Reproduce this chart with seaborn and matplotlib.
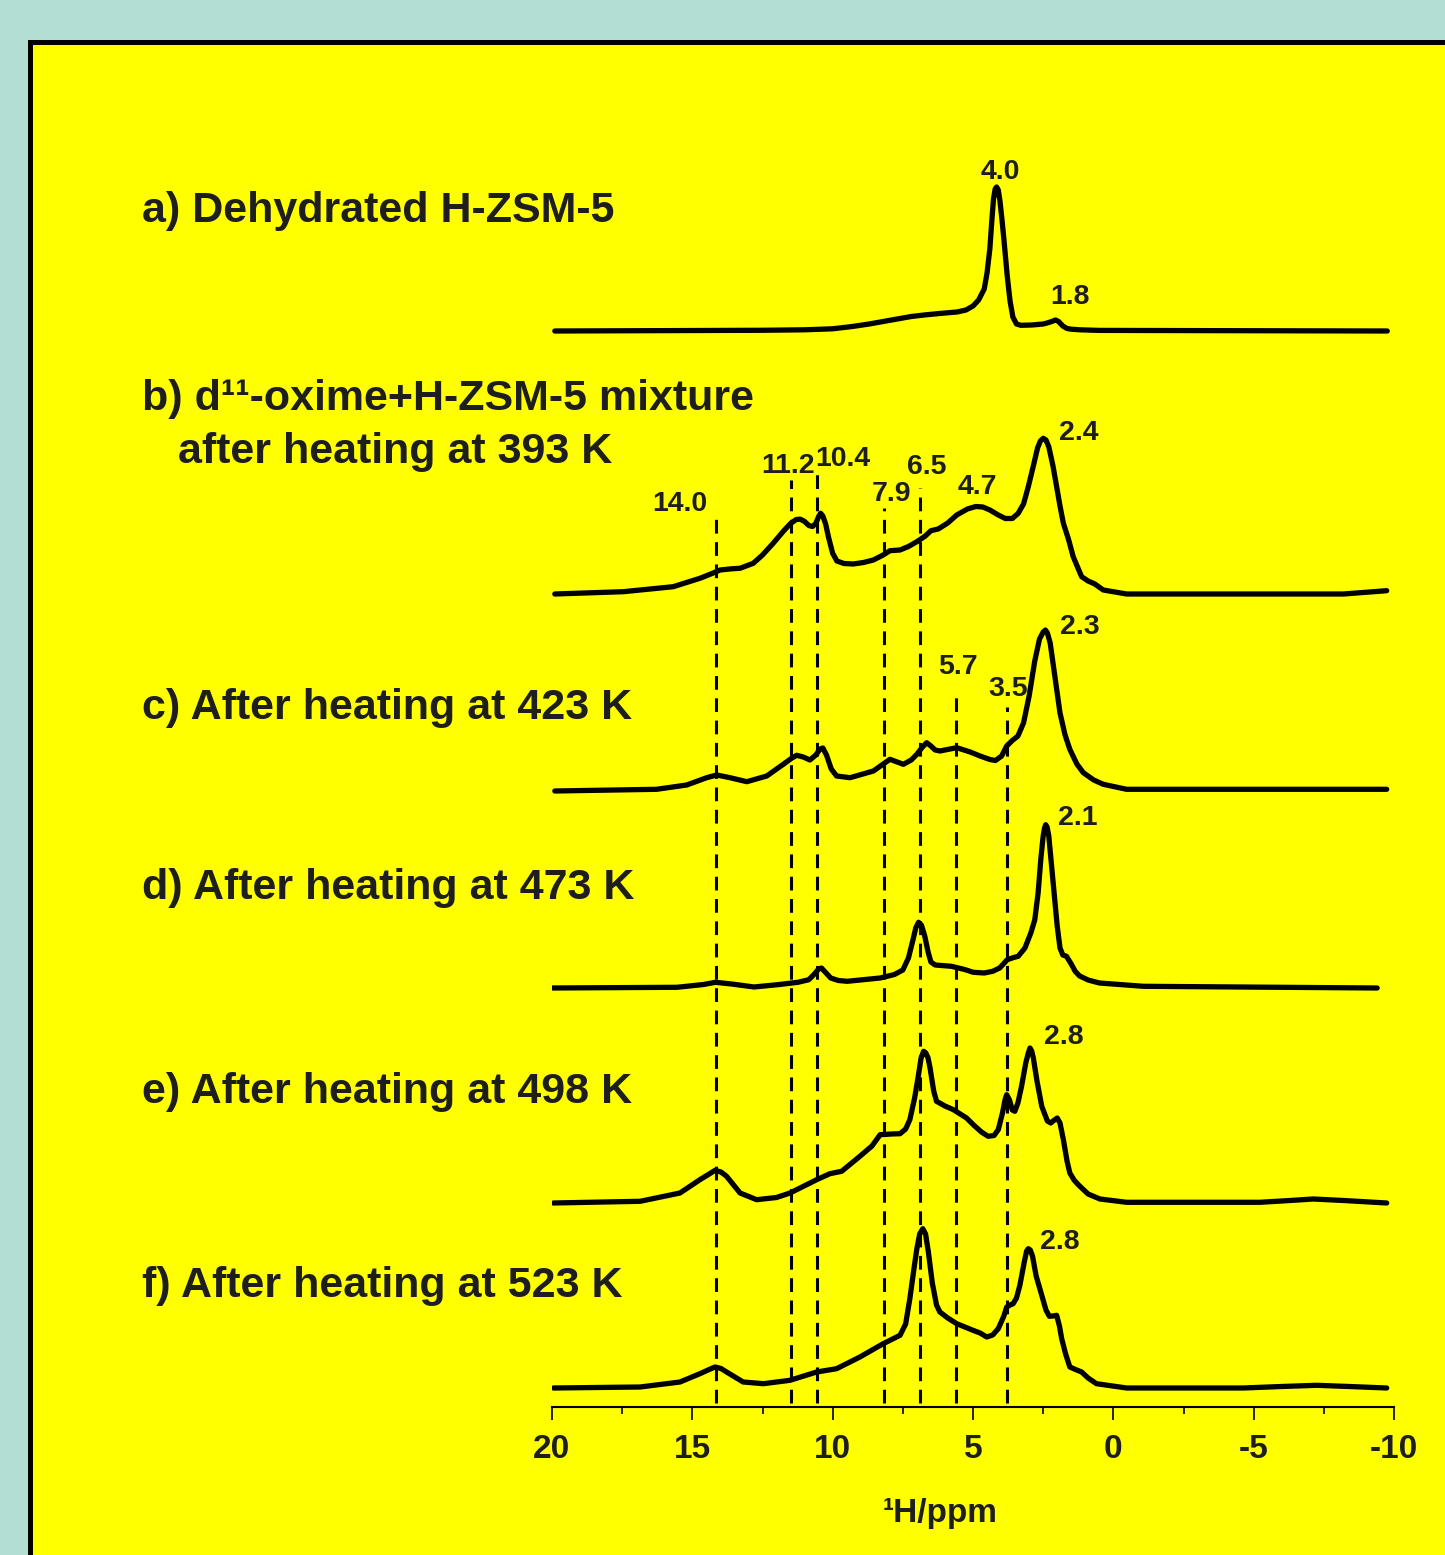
import matplotlib
matplotlib.use("Agg")
import matplotlib.pyplot as plt
from matplotlib.patches import Rectangle
from matplotlib.ticker import MultipleLocator
import seaborn as sns
import pandas as pd

# traced spectra: chemical shift (ppm) and height above own baseline (arb.)
a_ppm = [19.9, 12.6, 11.0, 10.0, 9.3, 8.7, 8.3, 7.7, 7.2, 6.74, 6.2, 5.57, 5.25, 5.0, 4.8, 4.6, 4.5, 4.4,
         4.33, 4.27, 4.21, 4.16, 4.1, 4.04, 3.97, 3.9, 3.78, 3.68, 3.58, 3.45, 3.3, 2.9, 2.5, 2.3, 2.15,
         2.06, 1.95, 1.8, 1.65, 1.5, 1.2, 0.5, -9.76]
a_int = [0, 0.7, 1.2, 2.2, 4.5, 7, 9, 12, 14.5, 16, 17.5, 19, 21, 25, 31, 42, 58, 82,
         110, 132, 142, 144, 141, 130, 112, 92, 55, 30, 14, 7, 5.7, 6, 7, 8.5, 10,
         11, 9.5, 5, 2.5, 1.8, 1.2, 0.6, 0]

b_ppm = [19.9, 17.46, 15.68, 14.73, 14.3, 14.01, 13.6, 13.3, 12.83, 12.5, 12.12, 11.75, 11.5, 11.3, 11.15,
         11.0, 10.85, 10.72, 10.6, 10.5, 10.43, 10.35, 10.25, 10.15, 10.0, 9.85, 9.6, 9.27, 8.9, 8.55, 8.2,
         7.96, 7.6, 7.3, 7.0, 6.7, 6.5, 6.24, 5.9, 5.58, 5.2, 4.9, 4.65, 4.4, 4.1, 3.85, 3.6, 3.39, 3.2,
         3.03, 2.85, 2.7, 2.6, 2.5, 2.4, 2.3, 2.15, 2.02, 1.9, 1.78, 1.6, 1.43, 1.13, 0.9, 0.66, 0.36,
         -0.47, -8.2, -9.74]
b_int = [0, 2.3, 7.3, 15.7, 20.5, 24, 25.2, 25.7, 30.7, 39, 50.7, 63, 70.5, 74.5, 74.8,
         72.5, 68.5, 67.5, 70.5, 77.5, 80.7, 78, 70, 57, 40.7, 33, 30.5, 30, 31.5, 34, 39,
         43.3, 44, 47.5, 52.3, 58, 63.3, 65, 71, 79, 85, 87.5, 87, 84, 79, 75.5, 75.5, 80.7, 90,
         107.3, 128, 146, 153, 155.7, 154, 147.3, 128, 107.3, 88, 70.7, 55, 37.3, 17.3, 13, 10, 4,
         0, 0, 3.3]

c_ppm = [19.9, 16.27, 15.2, 14.49, 14.13, 13.66, 13.06, 12.35, 11.76, 11.45, 11.28, 11.05, 10.81, 10.6,
         10.45, 10.35, 10.22, 10.05, 9.86, 9.38, 8.55, 7.96, 7.75, 7.48, 7.2, 7.0, 6.8, 6.65, 6.5, 6.35,
         6.18, 5.58, 5.1, 4.75, 4.4, 4.2, 3.98, 3.8, 3.6, 3.4, 3.2, 3.0, 2.8, 2.63, 2.5, 2.42, 2.35,
         2.25, 2.1, 1.9, 1.72, 1.55, 1.3, 1.07, 0.7, 0.36, -0.47, -9.74]
c_int = [0, 1.7, 6, 13.3, 16, 13.3, 9.3, 15, 26.7, 33, 35.7, 34, 31, 36,
         42, 43, 36, 22, 15, 13.3, 20, 31.7, 29.5, 26.7, 31, 36.7, 44, 48.3, 45, 41,
         40, 43.3, 39, 35, 31.5, 30.5, 35, 45, 50.5, 55, 68, 95, 130, 152, 159, 161, 158,
         148, 118, 78, 56, 41.7, 27, 18.3, 11, 6.7, 1.7, 1.7]

d_ppm = [20.07, 15.55, 14.6, 14.18, 13.6, 12.8, 11.9, 11.24, 10.85, 10.65, 10.5, 10.4, 10.25, 10.07, 9.8,
         9.48, 8.31, 7.8, 7.5, 7.3, 7.14, 7.04, 6.94, 6.84, 6.72, 6.6, 6.5, 6.35, 5.77, 5.3, 4.99, 4.6,
         4.3, 4.05, 3.78, 3.55, 3.39, 3.15, 2.94, 2.8, 2.68, 2.58, 2.5, 2.45, 2.41, 2.36, 2.3, 2.22, 2.12,
         2.0, 1.9, 1.8, 1.67, 1.5, 1.36, 1.2, 0.9, 0.5, -1.07, -9.4]
d_int = [0, 0.7, 3.5, 5.7, 4, 1, 3.5, 5.7, 8.3, 14, 19, 20, 15.5, 10, 7.5,
         6.7, 10, 13.5, 18, 30, 48, 60, 65.7, 63, 52, 36, 26, 23, 21.7, 18.5, 15.7, 15,
         16.7, 20, 28.3, 30.5, 31.7, 40, 55, 68, 95, 130, 152, 160, 163.3, 161, 152, 128, 98,
         62, 40, 33, 31.7, 24, 16.7, 12, 8, 5, 1.7, 0]

e_ppm = [19.95, 16.86, 15.44, 14.73, 14.4, 14.19, 13.98, 13.78, 13.3, 12.71, 12.0, 11.52, 10.57, 10.1, 9.68,
         9.03, 8.6, 8.31, 7.9, 7.6, 7.4, 7.25, 7.08, 6.95, 6.85, 6.76, 6.68, 6.6, 6.53, 6.4, 6.3, 6.0,
         5.7, 5.23, 4.99, 4.7, 4.46, 4.25, 4.1, 3.95, 3.86, 3.8, 3.7, 3.6, 3.51, 3.4, 3.27, 3.12, 3.03,
         2.97, 2.91, 2.85, 2.72, 2.55, 2.35, 2.23, 2.1, 2.0, 1.9, 1.78, 1.65, 1.55, 1.4, 1.25, 0.9,
         0.48, -0.47, -5.22, -6.3, -7.12, -8.2, -9.74]
e_int = [0, 1.7, 10, 23.3, 29, 32.7, 31, 26.7, 10, 3.3, 5.5, 10, 23.3, 29.3, 31.7,
         46.7, 57, 68.3, 69, 69.3, 74, 83.3, 105, 126.7, 145, 151.7, 150, 145, 135, 112, 101.7, 97,
         93.3, 85, 78.3, 71, 66.7, 67.5, 73.3, 90, 103, 108.3, 103, 93, 91.7, 100, 116.7, 140, 150,
         155, 152, 145, 122, 96.7, 82, 80, 83, 85, 80, 63.3, 42, 30, 23, 18.3, 9,
         4, 0.7, 0.7, 2.5, 4, 2.5, 0]

f_ppm = [19.95, 16.86, 15.44, 14.73, 14.4, 14.19, 13.98, 13.78, 13.19, 12.47, 11.52, 10.57, 9.86, 9.03,
         8.2, 7.6, 7.4, 7.25, 7.1, 7.0, 6.9, 6.79, 6.69, 6.59, 6.45, 6.3, 6.18, 5.9, 5.58, 5.0, 4.75,
         4.51, 4.3, 4.1, 3.9, 3.8, 3.68, 3.57, 3.45, 3.33, 3.18, 3.09, 3.03, 2.96, 2.88, 2.75, 2.55,
         2.4, 2.28, 2.15, 2.02, 1.92, 1.84, 1.7, 1.55, 1.35, 1.13, 0.9, 0.6, -0.47, -4.63, -6.0,
         -7.24, -8.4, -9.74]
f_int = [0, 1, 6, 14.3, 18.5, 21, 19.5, 16, 6, 4.3, 7.7, 16, 19.3, 31,
         44.3, 52.7, 64, 89.3, 120, 139.3, 154, 159.3, 154, 136, 105, 83, 76, 70, 64.3, 57.7, 55,
         51, 53, 59.3, 72, 81, 83, 84.3, 90, 102.7, 125, 137, 139.3, 138, 132, 112, 92.7,
         78, 71.7, 72, 72.7, 62, 49.3, 34, 21, 18.5, 16, 10, 4.3, 0, 0, 1.5,
         2.7, 1.5, 0]

labels = ["a) Dehydrated H-ZSM-5",
          "b) d\u00b9\u00b9-oxime+H-ZSM-5 mixture",
          "c) After heating at 423 K",
          "d) After heating at 473 K",
          "e) After heating at 498 K",
          "f) After heating at 523 K"]
label_b2 = "after heating at 393 K"

# dashed reference lines (ppm) and their top heights
ref_ppm = [14.17, 11.47, 10.55, 8.17, 6.89, 5.6, 3.78]
ref_top = [889, 927, 934, 899, 919, 717, 700]

# peak annotations: text, ppm, height
peak_txt = ["4.0", "1.8", "14.0", "11.2", "10.4", "7.9", "6.5", "4.7", "2.4",
            "5.7", "3.5", "2.3", "2.1", "2.8", "2.8"]
peak_ppm = [4.04, 1.55, 15.44, 11.59, 9.63, 7.89, 6.64, 4.86, 1.23,
            5.54, 3.75, 1.19, 1.26, 1.76, 1.9]
peak_y = [1235, 1110, 903, 941, 948, 913, 940, 920, 974,
          740, 718, 780, 589, 370, 165]

spectra = [(a_ppm, a_int), (b_ppm, b_int), (c_ppm, c_int),
           (d_ppm, d_int), (e_ppm, e_int), (f_ppm, f_int)]
offsets = [1076, 813, 616, 419, 204, 19]
label_y = [211, 399, 708, 888, 1092, 1286]

W, H = 1445, 1555
fig = plt.figure(figsize=(W / 100, H / 100), dpi=100)
plt.rcParams['font.family'] = ['Liberation Sans', 'DejaVu Sans']
plt.rcParams['axes.unicode_minus'] = False
fig.patch.set_facecolor('#b3ded3')
fig.patches.append(Rectangle((29.5 / W, -0.1), 1.2, 1 - 42 / H + 0.1, transform=fig.transFigure,
                             facecolor='#ffff00', edgecolor='black', lw=3.6, zorder=-10))

ax = fig.add_axes([552 / W, (H - 1407) / H, (1394 - 552) / W, (1407 - 100) / H])
ax.set_facecolor('none')
ax.set_zorder(5)

for (ppm, inten), off in zip(spectra, offsets):
    df = pd.DataFrame({'ppm': ppm, 'y': [v + off for v in inten]})
    sns.lineplot(data=df, x='ppm', y='y', sort=False, estimator=None, ax=ax,
                 color='black', lw=3.8, solid_joinstyle='round', solid_capstyle='round')

for p, top in zip(ref_ppm, ref_top):
    ax.plot([p, p], [4, top], color='black', lw=2.2, dashes=(4.5, 2.8))

for t, p, y in zip(peak_txt, peak_ppm, peak_y):
    ax.text(p, y, t, ha='center', va='center', fontsize=20.5, fontweight='bold', color='#1e1e1e')

txt = dict(fontsize=31, fontweight='bold', color='#1e1e1e', va='center', ha='left')
for lab, y in zip(labels, label_y):
    fig.text(142 / W, 1 - y / H, lab, **txt)
fig.text(178 / W, 1 - 452 / H, label_b2, **txt)

ax.set_xlim(20, -10)
ax.set_ylim(0, 1307)
for s in ['top', 'right', 'left']:
    ax.spines[s].set_visible(False)
ax.spines['bottom'].set_linewidth(1.5)
ax.set_yticks([])
ax.set_ylabel('')
ax.xaxis.set_major_locator(MultipleLocator(5))
ax.xaxis.set_minor_locator(MultipleLocator(2.5))
ax.tick_params(axis='x', which='major', direction='out', length=9.5, width=1.2, pad=10,
               labelsize=24, labelcolor='#1e1e1e')
ax.tick_params(axis='x', which='minor', direction='out', length=5, width=1.2)
for lab in ax.get_xticklabels():
    lab.set_fontweight('bold')
ax.set_xlabel('\u00b9H/ppm', fontsize=24, fontweight='bold', color='#1e1e1e')
ax.xaxis.set_label_coords(0.461, -0.07)

fig.savefig('out.png', dpi=100, facecolor=fig.get_facecolor())
